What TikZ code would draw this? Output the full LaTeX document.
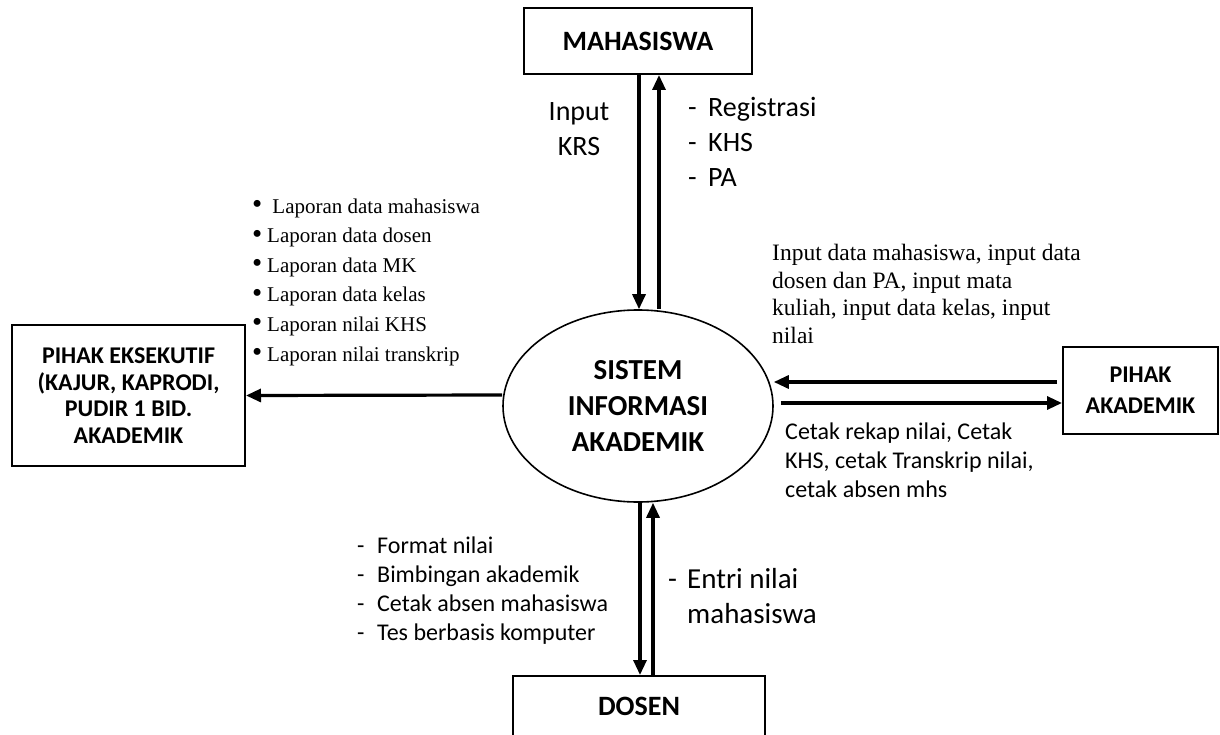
\documentclass[tikz,border=0pt]{standalone}
\usepackage{fontspec}
\setmainfont{Liberation Serif}
\newfontfamily\carl{Carlito}
\usetikzlibrary{arrows.meta,shapes.geometric}
\newcommand{\bul}{\makebox[15pt][l]{\raisebox{-0.5pt}{\fontsize{29}{0}\selectfont\textbullet}}}
\begin{document}
\begin{tikzpicture}[x=1pt,y=-1pt,
  box/.style={draw,line width=2pt,rectangle,inner sep=0pt,align=center,font=\carl\bfseries},
  arr/.style={line width=3.2pt,-{Triangle[length=15pt,width=13pt]}},
  sanslbl/.style={inner sep=0pt,align=left,font=\carl\fontsize{24}{29}\selectfont},
  seriflbl/.style={inner sep=0pt,align=left}]
\useasboundingbox (0,0) rectangle (1220,735);
% entities
\node[box,minimum width=228pt,minimum height=66pt,font=\carl\bfseries\fontsize{28}{34}\selectfont] (mah) at (638,41) {MAHASISWA};
\node[draw,ellipse,line width=1.6pt,minimum width=270pt,minimum height=192pt,inner sep=0pt,align=center,font=\carl\bfseries\fontsize{29}{36}\selectfont] (sys) at (638,406) {SISTEM\\INFORMASI\\AKADEMIK};
\node[box,minimum width=233pt,minimum height=141pt,font=\carl\bfseries\fontsize{24}{26.7}\selectfont] (exec) at (128.5,395.5) {PIHAK EKSEKUTIF\\(KAJUR, KAPRODI,\\PUDIR 1 BID.\\AKADEMIK};
\node[box,minimum width=155pt,minimum height=87pt,font=\carl\bfseries\fontsize{24}{31}\selectfont] (akad) at (1140.5,390.5) {PIHAK\\AKADEMIK};
\node[box,minimum width=252pt,minimum height=60pt,font=\carl\bfseries\fontsize{28}{34}\selectfont] (dos) at (639,706) {DOSEN};
% flows
\draw[arr] ([xshift=1pt]mah.south) -- ([xshift=1pt]sys.north);
\draw[arr] ([xshift=21pt]sys.north) -- ([xshift=21pt]mah.south);
\draw[arr] ([yshift=11pt]sys.west) -- (exec.east);
\draw[arr] ([xshift=-5pt,yshift=8.5pt]akad.west) -- ([yshift=24pt]sys.east);
\draw[arr] ([xshift=7pt,yshift=3pt]sys.east) -- ([yshift=-12.5pt]akad.west);
\draw[arr] ([xshift=2pt]sys.south) -- ([xshift=1pt]dos.north);
\draw[arr] ([xshift=14pt]dos.north) -- ([xshift=15pt]sys.south);
% labels
\node[inner sep=0pt,align=center,font=\carl\fontsize{28}{35}\selectfont] (lkrs) at (579,129.5) {Input\\KRS};
\node[sanslbl,anchor=west,font=\carl\fontsize{28}{35}\selectfont] (lmah) at (688,142) {\makebox[20pt][l]{-}Registrasi\\\makebox[20pt][l]{-}KHS\\\makebox[20pt][l]{-}PA};
\node[seriflbl,anchor=west,font=\fontsize{21}{29.6}\selectfont] (lexec) at (252,282) {\bul\ Laporan data mahasiswa\\\bul Laporan data dosen\\\bul Laporan data MK\\\bul Laporan data kelas\\\bul Laporan nilai KHS\\\bul Laporan nilai transkrip};
\node[seriflbl,anchor=west,font=\fontsize{23.5}{27.8}\selectfont] (lin) at (772,294) {Input data mahasiswa, input data\\dosen dan PA, input mata\\kuliah, input data kelas, input\\nilai};
\node[sanslbl,anchor=west] (lout) at (785,460) {Cetak rekap nilai, Cetak\\KHS, cetak Transkrip nilai,\\cetak absen mhs};
\node[sanslbl,anchor=west] (ldos) at (357,591) {\makebox[20pt][l]{-}Format nilai\\\makebox[20pt][l]{-}Bimbingan akademik\\\makebox[20pt][l]{-}Cetak absen mahasiswa\\\makebox[20pt][l]{-}Tes berbasis komputer};
\node[sanslbl,anchor=west,font=\carl\fontsize{29}{35}\selectfont] (lentri) at (668,596) {\makebox[19pt][l]{-}Entri nilai\\\hspace*{19pt}mahasiswa};
\end{tikzpicture}
\end{document}
